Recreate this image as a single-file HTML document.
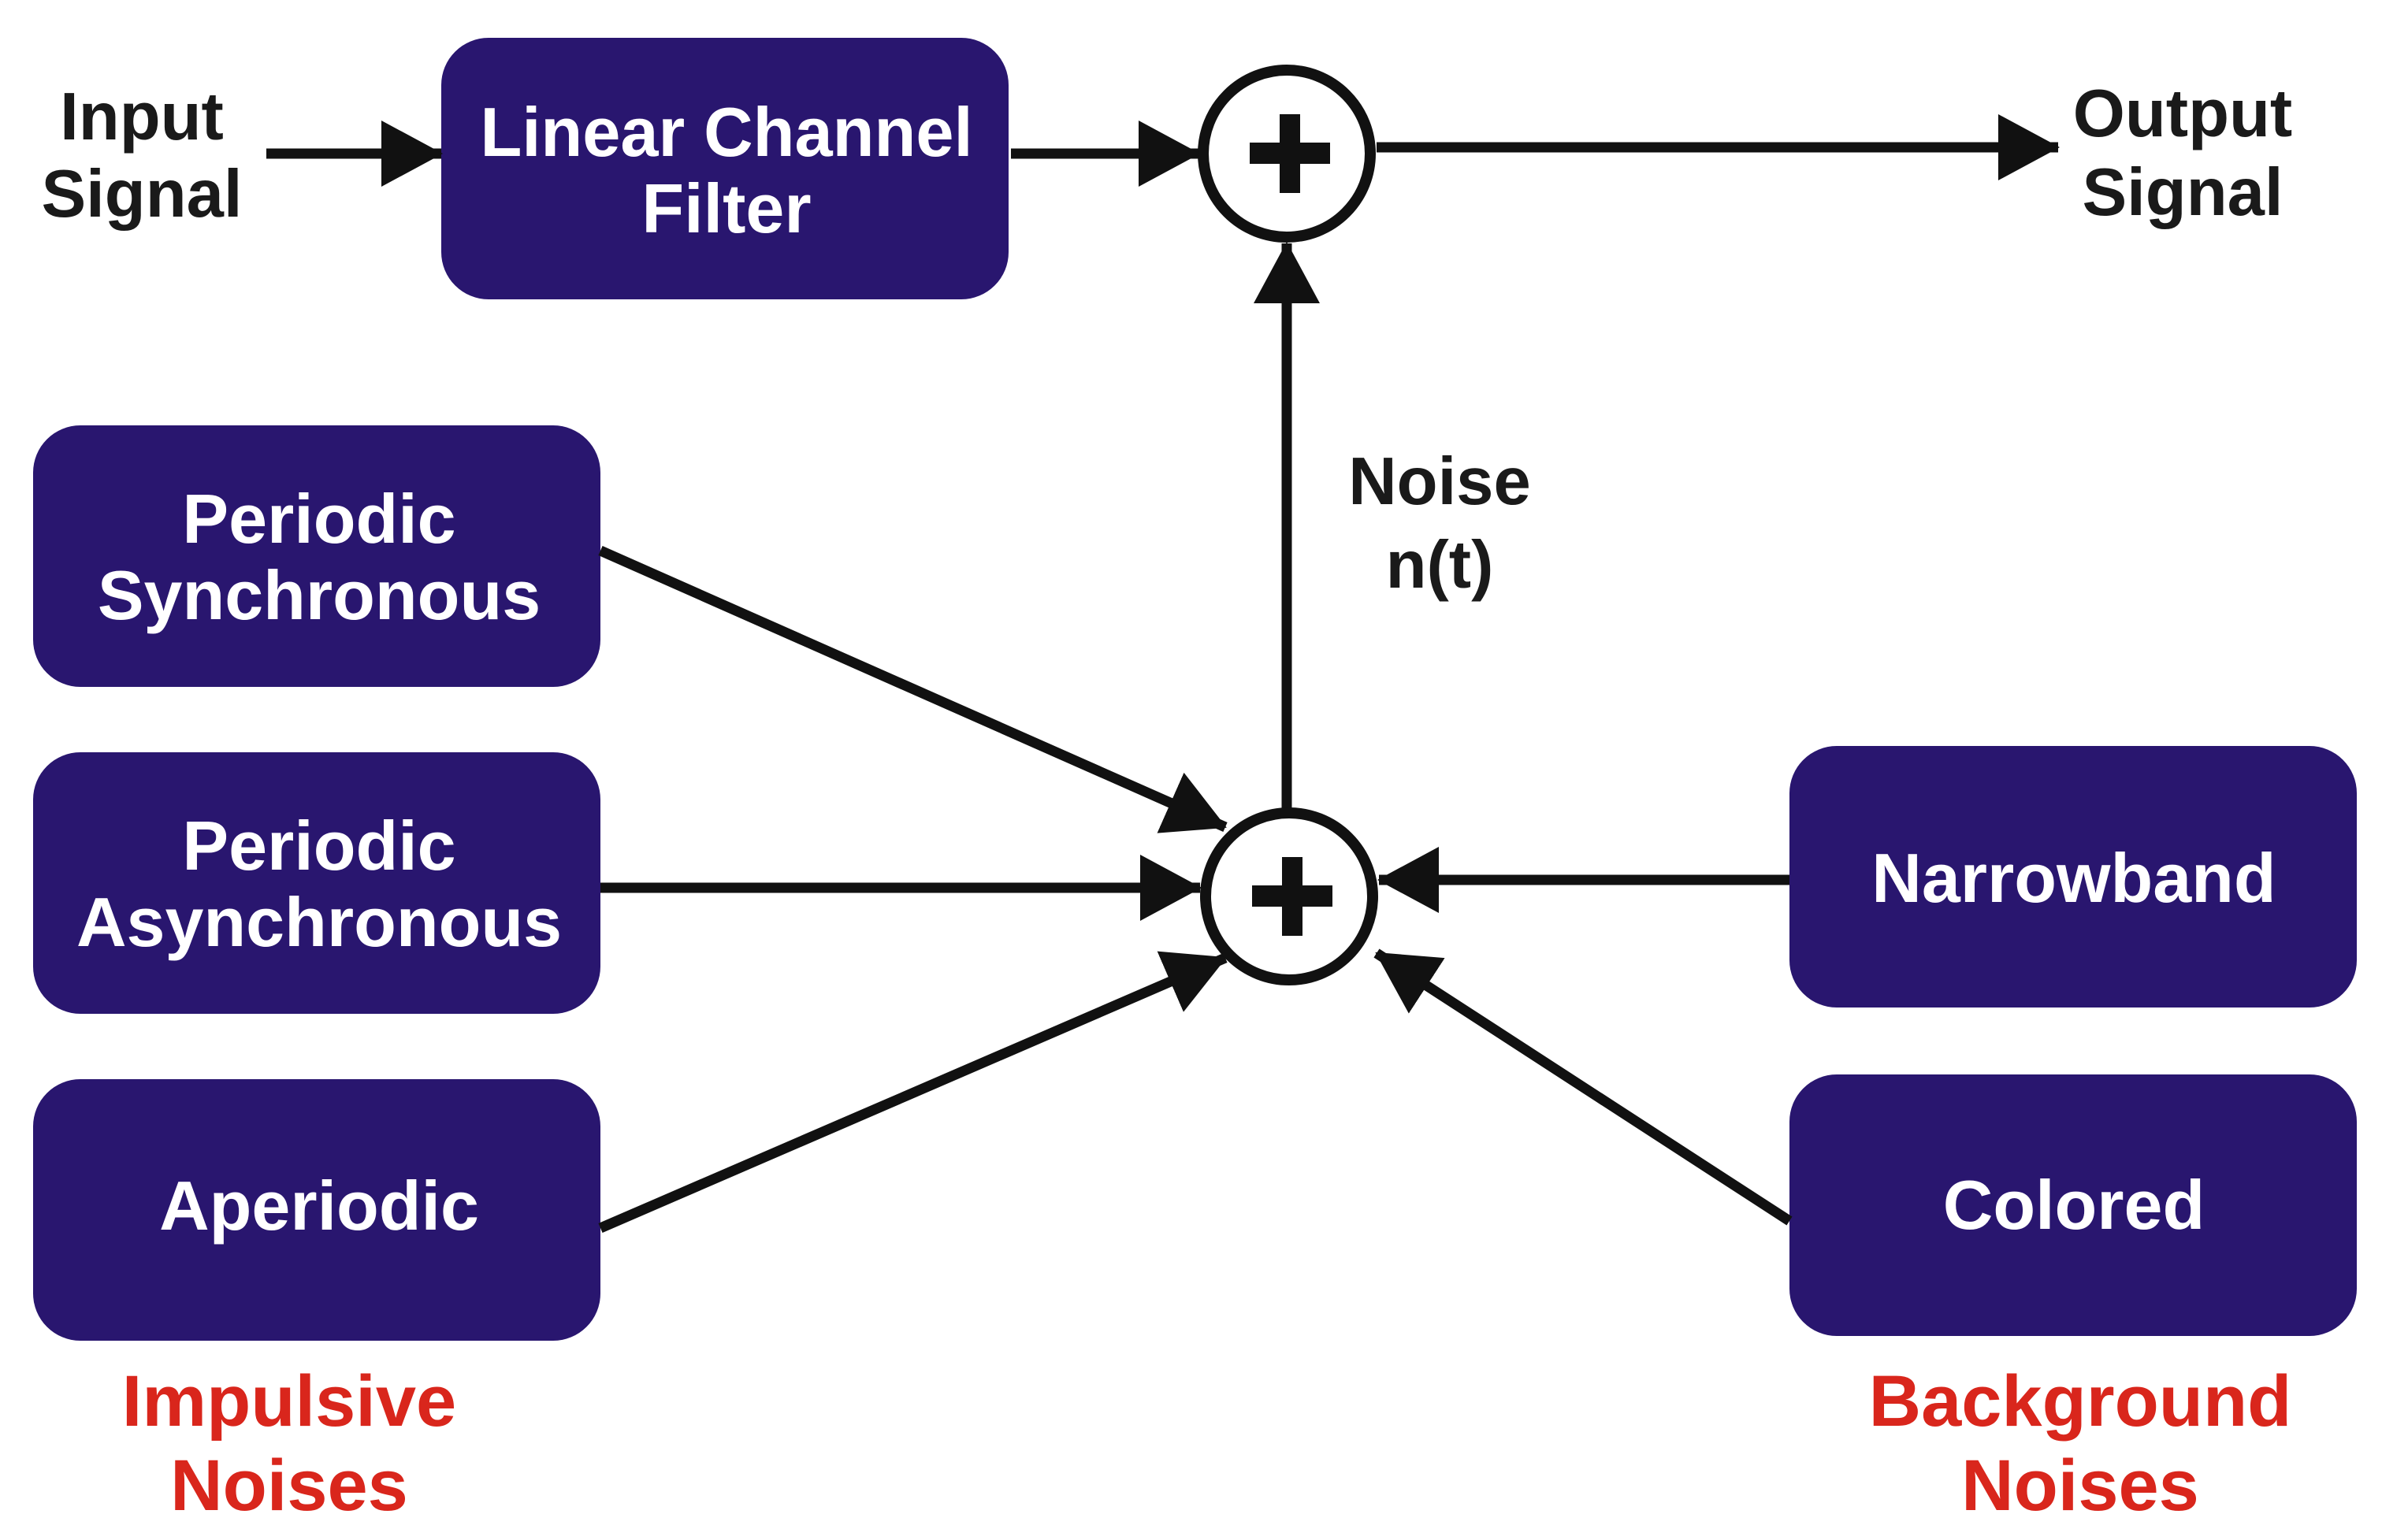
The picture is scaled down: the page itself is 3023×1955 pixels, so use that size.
<!DOCTYPE html>
<html><head><meta charset="utf-8"><style>
html,body{margin:0;padding:0;background:#fff;}
svg{display:block;}
text{font-family:"Liberation Sans",Arial,sans-serif;font-weight:bold;}
</style></head><body>
<svg width="3023" height="1955" viewBox="0 0 3023 1955" xmlns="http://www.w3.org/2000/svg">
<defs>
<marker id="a" markerUnits="userSpaceOnUse" markerWidth="80" markerHeight="84" refX="76" refY="42" orient="auto">
<path d="M0,0 L78,42 L0,84 Z" fill="#111"/>
</marker>
</defs>
<g fill="#29166f">
<rect x="560" y="48" width="720" height="332" rx="60"/>
<rect x="42" y="540" width="720" height="332" rx="60"/>
<rect x="42" y="955" width="720" height="332" rx="60"/>
<rect x="42" y="1370" width="720" height="332" rx="60"/>
<rect x="2271" y="947" width="720" height="332" rx="60"/>
<rect x="2271" y="1364" width="720" height="332" rx="60"/>
</g>
<g stroke="#111" stroke-width="13" fill="none">
<line x1="338" y1="195" x2="560" y2="195" marker-end="url(#a)"/>
<line x1="1283" y1="195" x2="1521" y2="195" marker-end="url(#a)"/>
<line x1="1747" y1="187" x2="2612" y2="187" marker-end="url(#a)"/>
<line x1="1633" y1="1026" x2="1633" y2="309" marker-end="url(#a)"/>
<line x1="762" y1="699" x2="1555" y2="1050" marker-end="url(#a)"/>
<line x1="762" y1="1127" x2="1523" y2="1127" marker-end="url(#a)"/>
<line x1="762" y1="1559" x2="1555" y2="1216" marker-end="url(#a)"/>
<line x1="2271" y1="1117" x2="1750" y2="1117" marker-end="url(#a)"/>
<line x1="2271" y1="1550" x2="1747" y2="1210" marker-end="url(#a)"/>
<circle cx="1633" cy="195" r="106" stroke-width="14" fill="#fff"/>
<circle cx="1636" cy="1138" r="106" stroke-width="14" fill="#fff"/>
</g>
<g fill="#111">
<rect x="1586" y="181" width="102" height="27"/><rect x="1624" y="145" width="26" height="100"/>
<rect x="1589" y="1124" width="102" height="27"/><rect x="1627" y="1088" width="26" height="100"/>
</g>
<g fill="#fff" font-size="88" text-anchor="middle">
<text x="922" y="198" textLength="625" lengthAdjust="spacingAndGlyphs">Linear Channel</text>
<text x="922" y="295">Filter</text>
<text x="405" y="689">Periodic</text>
<text x="405" y="786">Synchronous</text>
<text x="405" y="1104">Periodic</text>
<text x="405" y="1201">Asynchronous</text>
<text x="405" y="1561">Aperiodic</text>
<text x="2632" y="1145">Narrowband</text>
<text x="2632" y="1560">Colored</text>
</g>
<g fill="#1a1a1a" font-size="85" text-anchor="middle">
<text x="180" y="177">Input</text>
<text x="180" y="275">Signal</text>
<text x="2770" y="173">Output</text>
<text x="2770" y="273">Signal</text>
<text x="1827" y="640">Noise</text>
<text x="1827" y="746">n(t)</text>
</g>
<g fill="#d9261c" font-size="92" text-anchor="middle">
<text x="367" y="1810">Impulsive</text>
<text x="367" y="1917">Noises</text>
<text x="2640" y="1810">Background</text>
<text x="2640" y="1917">Noises</text>
</g>
</svg>
</body></html>
